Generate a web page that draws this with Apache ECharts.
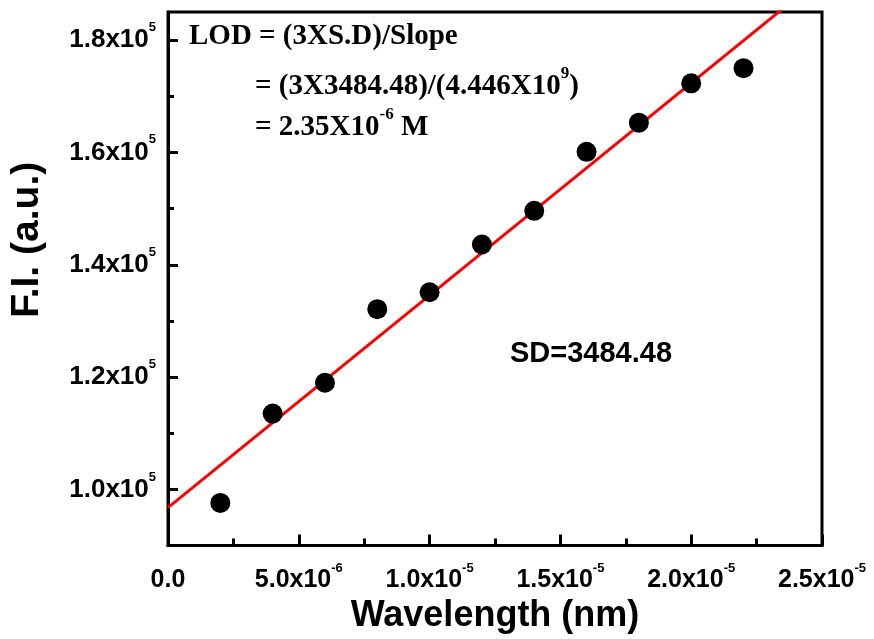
<!DOCTYPE html>
<html>
<head>
<meta charset="utf-8">
<title>F.I. vs Wavelength</title>
<script src="https://cdn.jsdelivr.net/npm/echarts@6/dist/echarts.min.js"></script>
<style>
  html, body { margin: 0; padding: 0; background: #fff; }
  #chart { width: 874px; height: 639px; }
</style>
</head>
<body>
<div id="chart"></div>
<script>
// Measured points
const concValues = [2e-6, 4e-6, 6e-6, 8e-6, 1.0e-5, 1.2e-5, 1.4e-5, 1.6e-5, 1.8e-5, 2.0e-5, 2.2e-5];
const fiValues = [97600, 113500, 119000, 132100, 135100, 143600, 149600, 160100, 165300, 172300, 175000];

// Tick labels (mantissa part and superscript exponent)
const xTickBase = ['0.0', '5.0x10', '1.0x10', '1.5x10', '2.0x10', '2.5x10'];
const xTickExp = ['', '-6', '-5', '-5', '-5', '-5'];
const yMajorValues = [1.0e5, 1.2e5, 1.4e5, 1.6e5, 1.8e5];
const yMinorValues = [1.1e5, 1.3e5, 1.5e5, 1.7e5];
const yTickBase = ['1.0x10', '1.2x10', '1.4x10', '1.6x10', '1.8x10'];
const yTickExp = ['5', '5', '5', '5', '5'];

const X_MIN = 0, X_MAX = 2.5e-5, X_STEP = 5e-6;
const Y_MIN = 0.9e5, Y_MAX = 1.85e5;

// Least-squares linear fit of the measured points
function linearFit(xs, ys) {
  const n = xs.length;
  const mx = xs.reduce((a, b) => a + b, 0) / n;
  const my = ys.reduce((a, b) => a + b, 0) / n;
  let sxy = 0, sxx = 0;
  for (let i = 0; i < n; i++) {
    sxy += (xs[i] - mx) * (ys[i] - my);
    sxx += (xs[i] - mx) * (xs[i] - mx);
  }
  const slope = sxy / sxx;
  return { slope: slope, intercept: my - slope * mx };
}
const fit = linearFit(concValues, fiValues);
const fitLine = [X_MIN, X_MAX].map(x => [x, fit.intercept + fit.slope * x]);

const points = concValues.map((x, i) => [x, fiValues[i]]);

const SANS = "'Liberation Sans', Arial, sans-serif";
const SERIF = "'Liberation Serif', 'Times New Roman', serif";

const yTickRich = {
  b: { fontFamily: SANS, fontWeight: 'bold', fontSize: 26, color: '#000', lineHeight: 38 },
  s: { fontFamily: SANS, fontWeight: 'bold', fontSize: 13, color: '#000', lineHeight: 16, verticalAlign: 'top' }
};
const xTickRich = {
  b: { fontFamily: SANS, fontWeight: 'bold', fontSize: 25, color: '#000', lineHeight: 38 },
  s: { fontFamily: SANS, fontWeight: 'bold', fontSize: 13, color: '#000', lineHeight: 16, verticalAlign: 'top' }
};

const noteRich = {
  n: { fontFamily: SERIF, fontWeight: 'bold', fontSize: 29, color: '#000', lineHeight: 44 },
  s: { fontFamily: SERIF, fontWeight: 'bold', fontSize: 17, color: '#000', lineHeight: 20, verticalAlign: 'top' }
};

const chart = echarts.init(document.getElementById('chart'), null, { renderer: 'canvas' });

chart.setOption({
  backgroundColor: '#fff',
  animation: false,
  grid: {
    left: 167, right: 52, top: 12, bottom: 93,
    show: true, borderColor: '#000', borderWidth: 3, backgroundColor: 'transparent'
  },
  xAxis: {
    type: 'value',
    min: X_MIN, max: X_MAX, interval: X_STEP,
    name: 'Wavelength (nm)',
    nameLocation: 'middle',
    nameGap: 50,
    nameTextStyle: { fontFamily: SANS, fontWeight: 'bold', fontSize: 36, color: '#000' },
    axisLine: { show: true, onZero: false, lineStyle: { color: '#000', width: 3 } },
    axisTick: { show: true, inside: true, length: 11, lineStyle: { color: '#000', width: 3 } },
    minorTick: { show: true, splitNumber: 2, length: 7, lineStyle: { color: '#000', width: 3 } },
    splitLine: { show: false },
    axisLabel: {
      margin: 16,
      formatter: function (v) {
        const i = Math.round(v / X_STEP);
        return xTickExp[i] ? '{b|' + xTickBase[i] + '}{s|' + xTickExp[i] + '}' : '{b|' + xTickBase[i] + '}';
      },
      rich: xTickRich
    }
  },
  yAxis: [
    {
      type: 'value',
      min: Y_MIN, max: Y_MAX,
      name: 'F.I. (a.u.)',
      nameLocation: 'middle',
      nameRotate: 90,
      nameGap: 121,
      nameTextStyle: { fontFamily: SANS, fontWeight: 'bold', fontSize: 39, color: '#000', padding: [0, 0, 0, 78] },
      axisLine: { show: true, onZero: false, lineStyle: { color: '#000', width: 3 } },
      axisTick: { show: true, inside: true, length: 10, customValues: yMajorValues, lineStyle: { color: '#000', width: 3 } },
      splitLine: { show: false },
      axisLabel: {
        margin: 12,
        customValues: yMajorValues,
        formatter: function (v) {
          const i = yMajorValues.findIndex(t => Math.abs(t - v) < 1);
          if (i < 0) return '';
          return '{b|' + yTickBase[i] + '}{s|' + yTickExp[i] + '}';
        },
        rich: yTickRich
      }
    },
    {
      type: 'value',
      min: Y_MIN, max: Y_MAX,
      position: 'left',
      axisLine: { show: false },
      axisTick: { show: true, inside: true, length: 6, customValues: yMinorValues, lineStyle: { color: '#000', width: 3 } },
      axisLabel: { show: false },
      splitLine: { show: false }
    }
  ],
  series: [
    {
      name: 'Linear fit',
      type: 'line',
      data: fitLine,
      showSymbol: false,
      symbol: 'none',
      clip: true,
      lineStyle: { color: '#ff0000', width: 3 },
      z: 2
    },
    {
      name: 'F.I.',
      type: 'scatter',
      data: points,
      symbol: 'circle',
      symbolSize: 20,
      itemStyle: { color: '#000', opacity: 1 },
      z: 3
    }
  ],
  graphic: [
    {
      type: 'text', left: 189, top: 22,
      style: { text: '{n|LOD = (3XS.D)/Slope}', rich: noteRich }
    },
    {
      type: 'text', left: 255, top: 65,
      style: { text: '{n|= (3X3484.48)/(4.446X10}{s|9}{n|)}', rich: noteRich }
    },
    {
      type: 'text', left: 255, top: 106,
      style: { text: '{n|= 2.35X10}{s|-6}{n| M}', rich: noteRich }
    },
    {
      type: 'text', left: 510, top: 339,
      style: { text: 'SD=3484.48', font: "bold 29px " + SANS, fill: '#000' }
    }
  ]
});
</script>
</body>
</html>
